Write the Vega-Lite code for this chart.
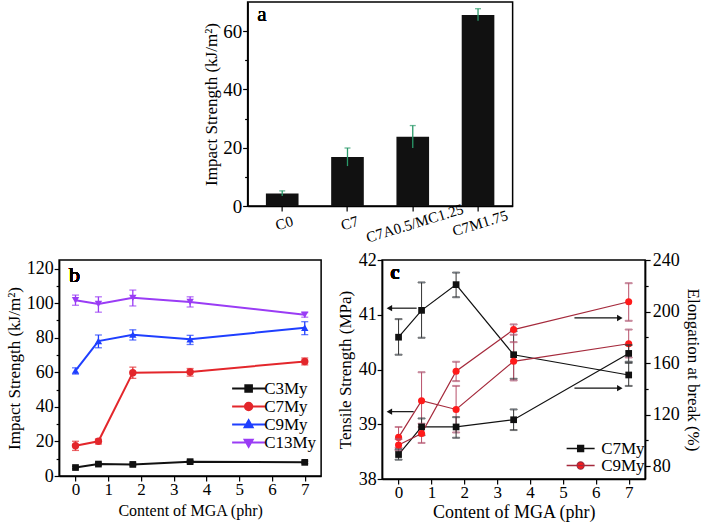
{
  "$schema": "https://vega.github.io/schema/vega-lite/v6.json",
  "background": "white",
  "padding": {"left": 4, "top": 1, "right": 3, "bottom": 1},
  "config": {
    "view": {"stroke": "#000", "strokeWidth": 1.5},
    "axis": {"domainColor": "#000", "domainWidth": 1.5, "tickColor": "#000", "tickWidth": 1.2, "tickSize": 5, "labelColor": "#000", "titleColor": "#000", "labelFont": "Liberation Serif", "titleFont": "Liberation Serif", "labelFontSize": 18, "titleFontSize": 17, "titleFontWeight": "normal", "grid": false, "labelPadding": 1, "labelOverlap": false},
    "legend": {"labelFont": "Liberation Serif", "labelFontSize": 17, "labelColor": "#000"},
    "text": {"font": "Liberation Serif", "color": "#000"}
  },
  "spacing": 4,
  "center": true,
  "vconcat": [
    {
      "width": 265,
      "height": 204,
      "data": {"values": [
        {"sample": "C0", "value": 4.3, "lo": 3.4, "hi": 5.2},
        {"sample": "C7", "value": 16.8, "lo": 13.7, "hi": 19.9},
        {"sample": "C7A0.5/MC1.25", "value": 23.8, "lo": 19.9, "hi": 27.6},
        {"sample": "C7M1.75", "value": 65.5, "lo": 63.6, "hi": 67.7}
      ]},
      "encoding": {
        "x": {"field": "sample", "type": "nominal", "sort": null, "scale": {"paddingInner": 0.5, "paddingOuter": 0.28},
          "axis": {"title": null, "labelAngle": -17, "labelAlign": "center", "labelBaseline": "top", "labelPadding": 5, "labelFontSize": 15}}
      },
      "layer": [
        {"mark": {"type": "bar", "color": "#111111"},
         "encoding": {"y": {"field": "value", "type": "quantitative", "scale": {"domain": [0, 70], "nice": false},
           "axis": {"title": "Impact Strength (kJ/m²)", "format": "d", "values": [0, 10, 20, 30, 40, 50, 60], "tickCount": 100, "labelFontSize": 19, "titlePadding": 2, "labelOverlap": false,
             "labelExpr": "datum.value % 20 === 0 ? datum.label : ''",
             "tickSize": {"condition": {"test": "datum.value % 20 !== 0", "value": 3}, "value": 5}}}}},
        {"mark": {"type": "rule", "color": "#2a9a6a", "strokeWidth": 1.3},
         "encoding": {"y": {"field": "lo", "type": "quantitative"}, "y2": {"field": "hi"}}},
        {"mark": {"type": "tick", "orient": "horizontal", "color": "#2a9a6a", "size": 6, "thickness": 1.3},
         "encoding": {"y": {"field": "hi", "type": "quantitative"}}},
        {"mark": {"type": "text", "text": "a", "fontSize": 21, "fontWeight": "normal", "align": "left", "baseline": "alphabetic", "dx": -25},
         "encoding": {"x": {"datum": "C0"}, "y": {"datum": 63.5}}}
      ]
    },
    {
      "spacing": 13,
      "resolve": {"scale": {"color": "independent", "shape": "independent", "fill": "independent", "stroke": "independent"}},
      "hconcat": [
        {
          "width": 262,
          "height": 216,
          "data": {"values": [
            {"series": "C3My", "x": 0, "y": 4.9, "lo": 4.2, "hi": 5.6},
            {"series": "C3My", "x": 0.7, "y": 6.9, "lo": 6.2, "hi": 7.6},
            {"series": "C3My", "x": 1.75, "y": 6.7, "lo": 6.0, "hi": 7.4},
            {"series": "C3My", "x": 3.5, "y": 8.3, "lo": 7.6, "hi": 9.0},
            {"series": "C3My", "x": 7, "y": 7.9, "lo": 7.2, "hi": 8.6},
            {"series": "C7My", "x": 0, "y": 17.5, "lo": 14.8, "hi": 20.1},
            {"series": "C7My", "x": 0.7, "y": 20.1, "lo": 18.5, "hi": 21.4},
            {"series": "C7My", "x": 1.75, "y": 59.8, "lo": 56.5, "hi": 63.0},
            {"series": "C7My", "x": 3.5, "y": 60.2, "lo": 57.8, "hi": 62.2},
            {"series": "C7My", "x": 7, "y": 66.3, "lo": 64.3, "hi": 68.3},
            {"series": "C9My", "x": 0, "y": 61.0, "lo": 59.0, "hi": 62.6},
            {"series": "C9My", "x": 0.7, "y": 78.1, "lo": 74.2, "hi": 81.6},
            {"series": "C9My", "x": 1.75, "y": 81.8, "lo": 78.7, "hi": 84.6},
            {"series": "C9My", "x": 3.5, "y": 79.1, "lo": 76.1, "hi": 81.4},
            {"series": "C9My", "x": 7, "y": 85.8, "lo": 81.8, "hi": 89.3},
            {"series": "C13My", "x": 0, "y": 101.7, "lo": 98.8, "hi": 104.7},
            {"series": "C13My", "x": 0.7, "y": 99.5, "lo": 94.8, "hi": 103.7},
            {"series": "C13My", "x": 1.75, "y": 103.1, "lo": 98.4, "hi": 107.6},
            {"series": "C13My", "x": 3.5, "y": 100.7, "lo": 97.8, "hi": 103.7},
            {"series": "C13My", "x": 7, "y": 93.3, "lo": 91.9, "hi": 94.6}
          ]},
          "encoding": {
            "x": {"field": "x", "type": "quantitative", "scale": {"domain": [-0.5, 7.5], "nice": false, "zero": false},
              "axis": {"title": "Content of MGA (phr)", "titleFontSize": 16, "format": "d", "values": [0, 0.5, 1, 1.5, 2, 2.5, 3, 3.5, 4, 4.5, 5, 5.5, 6, 6.5, 7], "tickCount": 100,
                "labelExpr": "datum.value % 1 === 0 ? datum.label : ''", "titlePadding": 5, "labelPadding": 0, "labelOverlap": false,
                "labelFontSize": {"condition": {"test": "datum.value % 1 !== 0", "value": 1}, "value": 17},
                "tickSize": {"condition": {"test": "datum.value % 1 !== 0", "value": 3}, "value": 5}}},
            "color": {"field": "series", "type": "nominal", "sort": null,
              "scale": {"domain": ["C3My", "C7My", "C9My", "C13My"], "range": ["#111111", "#e3262b", "#1f3fff", "#9a3cf5"]}, "legend": null}
          },
          "layer": [
            {"mark": {"type": "line", "strokeWidth": 2},
             "encoding": {
               "y": {"field": "y", "type": "quantitative", "scale": {"domain": [0, 125], "nice": false},
                 "axis": {"title": "Impact Strength (kJ/m²)", "format": "d", "values": [0, 10, 20, 30, 40, 50, 60, 70, 80, 90, 100, 110, 120], "tickCount": 100, "labelOverlap": false,
                   "labelExpr": "datum.value % 20 === 0 ? datum.label : ''", "titlePadding": 3, "labelPadding": 1,
                   "labelFontSize": {"condition": {"test": "datum.value % 20 !== 0", "value": 1}, "value": 18},
                   "tickSize": {"condition": {"test": "datum.value % 20 !== 0", "value": 3}, "value": 5}}},
               "color": {"field": "series", "type": "nominal", "sort": null,
                 "scale": {"domain": ["C3My", "C7My", "C9My", "C13My"], "range": ["#111111", "#e3262b", "#1f3fff", "#9a3cf5"]},
                 "legend": {"title": null, "orient": "none", "legendX": 181, "legendY": 120, "padding": 0, "rowPadding": 0, "labelOffset": 7,
                   "symbolSize": 100, "symbolStrokeWidth": 2,
                   "encode": {"symbols": {"update": {
                     "shape": {"signal": "datum.value === 'C3My' ? 'M-3.3,0H3.3M-0.66,-0.66H0.66V0.66H-0.66Z' : datum.value === 'C7My' ? 'M-3.3,0H3.3M0.75,0A0.75,0.75,0,1,1,-0.75,0A0.75,0.75,0,1,1,0.75,0Z' : datum.value === 'C9My' ? 'M-3.3,0H3.3M0,-0.85L0.8,0.55H-0.8Z' : 'M-3.3,0H3.3M0,0.85L0.8,-0.55H-0.8Z'"},
                     "fill": {"signal": "datum.value === 'C3My' ? '#111111' : datum.value === 'C7My' ? '#e3262b' : datum.value === 'C9My' ? '#1f3fff' : '#9a3cf5'"},
                     "stroke": {"signal": "datum.value === 'C3My' ? '#111111' : datum.value === 'C7My' ? '#e3262b' : datum.value === 'C9My' ? '#1f3fff' : '#9a3cf5'"},
                     "strokeWidth": {"value": 2},
                     "opacity": {"value": 1}
                   }}}}}
             }},
            {"mark": {"type": "rule", "strokeWidth": 1.3},
             "encoding": {"y": {"field": "lo", "type": "quantitative"}, "y2": {"field": "hi"}}},
            {"mark": {"type": "tick", "orient": "horizontal", "size": 7, "thickness": 1.3},
             "encoding": {"y": {"field": "lo", "type": "quantitative"}}},
            {"mark": {"type": "tick", "orient": "horizontal", "size": 7, "thickness": 1.3},
             "encoding": {"y": {"field": "hi", "type": "quantitative"}}},
            {"transform": [{"filter": "datum.series === 'C3My'"}],
             "mark": {"type": "point", "shape": "square", "filled": true, "size": 45, "opacity": 1},
             "encoding": {"y": {"field": "y", "type": "quantitative"}}},
            {"transform": [{"filter": "datum.series === 'C7My'"}],
             "mark": {"type": "point", "shape": "circle", "filled": true, "size": 55, "opacity": 1},
             "encoding": {"y": {"field": "y", "type": "quantitative"}}},
            {"transform": [{"filter": "datum.series === 'C9My'"}],
             "mark": {"type": "point", "shape": "triangle-up", "filled": true, "size": 55, "opacity": 1},
             "encoding": {"y": {"field": "y", "type": "quantitative"}}},
            {"transform": [{"filter": "datum.series === 'C13My'"}],
             "mark": {"type": "point", "shape": "triangle-down", "filled": true, "size": 55, "opacity": 1},
             "encoding": {"y": {"field": "y", "type": "quantitative"}}},
            {"mark": {"type": "text", "text": "b", "fontSize": 22, "fontWeight": "normal", "align": "left", "baseline": "alphabetic"},
             "encoding": {"x": {"datum": -0.2}, "y": {"datum": 112.5}, "color": {"value": "#000"}}}
          ]
        },
        {
          "width": 263,
          "height": 219,
          "data": {"values": [
            {"sample": "C7My", "prop": "T", "x": 0, "y": 40.59, "lo": 40.27, "hi": 40.92},
            {"sample": "C7My", "prop": "T", "x": 0.7, "y": 41.08, "lo": 40.58, "hi": 41.59},
            {"sample": "C7My", "prop": "T", "x": 1.75, "y": 41.55, "lo": 41.32, "hi": 41.77},
            {"sample": "C7My", "prop": "T", "x": 3.5, "y": 40.27, "lo": 39.83, "hi": 40.70},
            {"sample": "C7My", "prop": "T", "x": 7, "y": 39.90, "lo": 39.70, "hi": 40.12},
            {"sample": "C9My", "prop": "T", "x": 0, "y": 38.76, "lo": 38.57, "hi": 38.95},
            {"sample": "C9My", "prop": "T", "x": 0.7, "y": 39.43, "lo": 38.95, "hi": 39.95},
            {"sample": "C9My", "prop": "T", "x": 1.75, "y": 39.27, "lo": 38.85, "hi": 39.70},
            {"sample": "C9My", "prop": "T", "x": 3.5, "y": 40.15, "lo": 39.80, "hi": 40.50},
            {"sample": "C9My", "prop": "T", "x": 7, "y": 40.47, "lo": 40.22, "hi": 40.73},
            {"sample": "C7My", "prop": "E", "x": 0, "y": 89, "lo": 85, "hi": 93},
            {"sample": "C7My", "prop": "E", "x": 0.7, "y": 110.4, "lo": 104, "hi": 117},
            {"sample": "C7My", "prop": "E", "x": 1.75, "y": 110.4, "lo": 102, "hi": 118},
            {"sample": "C7My", "prop": "E", "x": 3.5, "y": 116, "lo": 108, "hi": 124},
            {"sample": "C7My", "prop": "E", "x": 7, "y": 167.5, "lo": 161, "hi": 174},
            {"sample": "C9My", "prop": "E", "x": 0, "y": 96.4, "lo": 92, "hi": 101},
            {"sample": "C9My", "prop": "E", "x": 0.7, "y": 105.3, "lo": 98, "hi": 112.9},
            {"sample": "C9My", "prop": "E", "x": 1.75, "y": 153.7, "lo": 146, "hi": 161},
            {"sample": "C9My", "prop": "E", "x": 3.5, "y": 186, "lo": 182, "hi": 190},
            {"sample": "C9My", "prop": "E", "x": 7, "y": 207.6, "lo": 192.8, "hi": 222}
          ]},
          "encoding": {
            "x": {"field": "x", "type": "quantitative", "scale": {"domain": [-0.5, 7.5], "nice": false, "zero": false},
              "axis": {"title": "Content of MGA (phr)", "titleFontSize": 18, "format": "d", "values": [0, 0.5, 1, 1.5, 2, 2.5, 3, 3.5, 4, 4.5, 5, 5.5, 6, 6.5, 7], "tickCount": 100,
                "labelExpr": "datum.value % 1 === 0 ? datum.label : ''", "titlePadding": 3, "labelPadding": 0, "labelOverlap": false,
                "labelFontSize": {"condition": {"test": "datum.value % 1 !== 0", "value": 1}, "value": 17},
                "tickSize": {"condition": {"test": "datum.value % 1 !== 0", "value": 3}, "value": 5}}}
          },
          "resolve": {"scale": {"y": "independent"}},
          "layer": [
            {
              "transform": [{"filter": "datum.prop === 'T'"}],
              "layer": [
                {"mark": {"type": "line", "strokeWidth": 1.2},
                 "encoding": {
                   "y": {"field": "y", "type": "quantitative", "scale": {"domain": [38, 42], "nice": false, "zero": false},
                     "axis": {"orient": "left", "title": "Tensile Strength (MPa)", "format": "d", "values": [38, 38.5, 39, 39.5, 40, 40.5, 41, 41.5, 42], "tickCount": 100, "labelOverlap": false,
                       "labelExpr": "datum.value % 1 === 0 ? datum.label : ''", "titlePadding": 4,
                       "labelFontSize": {"condition": {"test": "datum.value % 1 !== 0", "value": 1}, "value": 18},
                       "tickSize": {"condition": {"test": "datum.value % 1 !== 0", "value": 3}, "value": 5}}},
                   "color": {"field": "sample", "type": "nominal", "sort": null,
                     "scale": {"domain": ["C7My", "C9My"], "range": ["#111111", "#a52a3c"]},
                     "legend": {"title": null, "orient": "none", "legendX": 190, "legendY": 180, "padding": 0, "rowPadding": -1, "labelOffset": 12,
                       "symbolSize": 100, "symbolStrokeWidth": 1.3,
                       "encode": {"symbols": {"update": {
                         "shape": {"signal": "datum.value === 'C7My' ? 'M-2.8,0H2.8M-0.6,-0.6H0.6V0.6H-0.6Z' : 'M-2.8,0H2.8M0.7,0A0.7,0.7,0,1,1,-0.7,0A0.7,0.7,0,1,1,0.7,0Z'"},
                         "fill": {"signal": "datum.value === 'C7My' ? '#111111' : '#ff1a1a'"},
                         "stroke": {"signal": "datum.value === 'C7My' ? '#111111' : '#a52a3c'"},
                         "strokeWidth": {"value": 1.3},
                         "opacity": {"value": 1}
                       }}}}}
                 }},
                {"mark": {"type": "rule", "strokeWidth": 1},
                 "encoding": {"y": {"field": "lo", "type": "quantitative"}, "y2": {"field": "hi"},
                   "stroke": {"field": "sample", "type": "nominal", "scale": {"domain": ["C7My", "C9My"], "range": ["#333333", "#b8506a"]}, "legend": null}}},
                {"mark": {"type": "tick", "orient": "horizontal", "size": 7, "thickness": 1},
                 "encoding": {"y": {"field": "lo", "type": "quantitative"},
                   "stroke": {"field": "sample", "type": "nominal", "scale": {"domain": ["C7My", "C9My"], "range": ["#333333", "#b8506a"]}, "legend": null}}},
                {"mark": {"type": "tick", "orient": "horizontal", "size": 7, "thickness": 1},
                 "encoding": {"y": {"field": "hi", "type": "quantitative"},
                   "stroke": {"field": "sample", "type": "nominal", "scale": {"domain": ["C7My", "C9My"], "range": ["#333333", "#b8506a"]}, "legend": null}}},
                {"transform": [{"filter": "datum.sample === 'C7My'"}],
                 "mark": {"type": "point", "shape": "square", "filled": true, "size": 45, "opacity": 1, "color": "#111111"},
                 "encoding": {"y": {"field": "y", "type": "quantitative"}}},
                {"transform": [{"filter": "datum.sample === 'C9My'"}],
                 "mark": {"type": "point", "shape": "circle", "filled": true, "size": 50, "opacity": 1, "color": "#ff1a1a"},
                 "encoding": {"y": {"field": "y", "type": "quantitative"}}},
                {"mark": {"type": "text", "text": "c", "fontSize": 21, "fontWeight": "bold", "align": "left", "baseline": "alphabetic"},
                 "encoding": {"x": {"datum": -0.25}, "y": {"datum": 41.65}}},
                {"data": {"values": [
                   {"x": 0.55, "xe": -0.28, "y": 41.12},
                   {"x": 0.46, "xe": -0.28, "y": 39.23}
                 ]},
                 "layer": [
                   {"mark": {"type": "rule", "color": "#111111", "strokeWidth": 1.2},
                    "encoding": {"x2": {"field": "xe"}, "y": {"field": "y", "type": "quantitative"}}},
                   {"mark": {"type": "point", "shape": "triangle-left", "filled": true, "color": "#111111", "size": 40, "opacity": 1},
                    "encoding": {"x": {"field": "xe", "type": "quantitative", "scale": {"domain": [-0.5, 7.5], "nice": false, "zero": false}},
                      "y": {"field": "y", "type": "quantitative"}}}
                 ]}
              ]
            },
            {
              "transform": [{"filter": "datum.prop === 'E'"}],
              "layer": [
                {"mark": {"type": "line", "strokeWidth": 1.2},
                 "encoding": {
                   "y": {"field": "y", "type": "quantitative", "scale": {"domain": [70, 240], "nice": false, "zero": false},
                     "axis": {"orient": "right", "title": "Elongation at break (%)", "format": "d", "values": [80, 100, 120, 140, 160, 180, 200, 220, 240], "tickCount": 100, "labelOverlap": false,
                       "labelExpr": "datum.value % 40 === 0 ? datum.label : ''", "titlePadding": 4, "labelPadding": 2,
                       "labelFontSize": {"condition": {"test": "datum.value % 40 !== 0", "value": 1}, "value": 18},
                       "tickSize": {"condition": {"test": "datum.value % 40 !== 0", "value": 3}, "value": 5}}},
                   "color": {"field": "sample", "type": "nominal", "sort": null,
                     "scale": {"domain": ["C7My", "C9My"], "range": ["#111111", "#a52a3c"]}, "legend": null}
                 }},
                {"mark": {"type": "rule", "strokeWidth": 1},
                 "encoding": {"y": {"field": "lo", "type": "quantitative"}, "y2": {"field": "hi"},
                   "stroke": {"field": "sample", "type": "nominal", "scale": {"domain": ["C7My", "C9My"], "range": ["#333333", "#b8506a"]}, "legend": null}}},
                {"mark": {"type": "tick", "orient": "horizontal", "size": 7, "thickness": 1},
                 "encoding": {"y": {"field": "lo", "type": "quantitative"},
                   "stroke": {"field": "sample", "type": "nominal", "scale": {"domain": ["C7My", "C9My"], "range": ["#333333", "#b8506a"]}, "legend": null}}},
                {"mark": {"type": "tick", "orient": "horizontal", "size": 7, "thickness": 1},
                 "encoding": {"y": {"field": "hi", "type": "quantitative"},
                   "stroke": {"field": "sample", "type": "nominal", "scale": {"domain": ["C7My", "C9My"], "range": ["#333333", "#b8506a"]}, "legend": null}}},
                {"transform": [{"filter": "datum.sample === 'C7My'"}],
                 "mark": {"type": "point", "shape": "square", "filled": true, "size": 45, "opacity": 1, "color": "#111111"},
                 "encoding": {"y": {"field": "y", "type": "quantitative"}}},
                {"transform": [{"filter": "datum.sample === 'C9My'"}],
                 "mark": {"type": "point", "shape": "circle", "filled": true, "size": 50, "opacity": 1, "color": "#ff1a1a"},
                 "encoding": {"y": {"field": "y", "type": "quantitative"}}},
                {"data": {"values": [
                   {"x": 5.35, "xe": 6.73, "y": 195},
                   {"x": 5.35, "xe": 6.73, "y": 140.5}
                 ]},
                 "layer": [
                   {"mark": {"type": "rule", "color": "#111111", "strokeWidth": 1.2},
                    "encoding": {"x2": {"field": "xe"}, "y": {"field": "y", "type": "quantitative"}}},
                   {"mark": {"type": "point", "shape": "triangle-right", "filled": true, "color": "#111111", "size": 40, "opacity": 1},
                    "encoding": {"x": {"field": "xe", "type": "quantitative", "scale": {"domain": [-0.5, 7.5], "nice": false, "zero": false}},
                      "y": {"field": "y", "type": "quantitative"}}}
                 ]}
              ]
            }
          ]
        }
      ]
    }
  ]
}
